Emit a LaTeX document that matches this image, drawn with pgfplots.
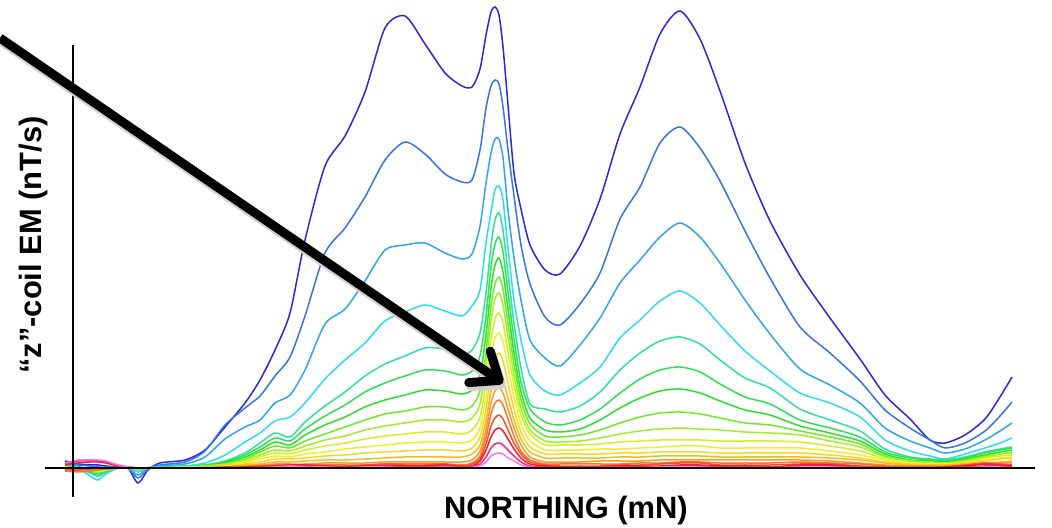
\documentclass[border=0pt]{standalone}
\usepackage{fontspec}
\setmainfont{Liberation Sans}
\usepackage{pgfplots}
\usepackage{pgfplotstable}
\pgfplotsset{compat=1.18}
\usetikzlibrary{arrows.meta}
\definecolor{c1}{RGB}{40,40,225}
\definecolor{c2}{RGB}{55,115,230}
\definecolor{c3}{RGB}{45,165,240}
\definecolor{c4}{RGB}{45,220,240}
\definecolor{c5}{RGB}{45,225,160}
\definecolor{c6}{RGB}{45,225,85}
\definecolor{c7}{RGB}{40,225,40}
\definecolor{c8}{RGB}{110,235,40}
\definecolor{c9}{RGB}{160,240,40}
\definecolor{c10}{RGB}{210,240,40}
\definecolor{c11}{RGB}{240,240,40}
\definecolor{c12}{RGB}{245,215,40}
\definecolor{c13}{RGB}{245,185,40}
\definecolor{c14}{RGB}{245,155,40}
\definecolor{c15}{RGB}{245,120,40}
\definecolor{c16}{RGB}{245,80,40}
\definecolor{c17}{RGB}{240,30,40}
\definecolor{c18}{RGB}{240,40,130}
\definecolor{c19}{RGB}{240,120,230}

\pgfplotstableread{
x c1 c2 c3 c4 c5 c6 c7 c8 c9 c10 c11 c12 c13 c14 c15 c16 c17 c18 c19
65 7 5 4 3 2 2 1 1 1 1 -2 -2 -1 -2 -3 -1 3 4 5
78 4 3 2 0 0 0 -1 -1 -1 -1 -3 -3 -2 -3 -4 -2 5 7 8
90 3 2 -4 -8 -5 -4 -3 -3 -3 -3 -2 -2 -2 -3 -3 -1 6 7 8
98 3 1 -8 -12 -8 -6 -4 -4 -4 -4 -1 -1 -1 -2 -2 0 6 7 8
106 2 1 -4 -6 -4 -3 -2 -2 -2 -2 0 0 -1 -1 -1 0 5 6 7
118 1 1 0 0 0 0 0 0 0 0 0 0 0 0 0 0 2 3 3
128 0 0 0 0 0 0 0 0 0 0 0 0 0 0 0 0 1 1 1
138 -15 -10 -7 -4 -2 -1 -1 -1 -1 0 0 0 0 0 0 0 0 0 0
148 -2 -1 0 0 0 0 0 0 0 0 0 0 0 0 0 0 0 0 0
160 5 3 2 1 1 1 0 0 0 0 0 0 0 0 0 0 0 0 0
185 8 6 4 2 2 1 1 1 1 1 0 0 0 0 0 0 0 0 0
205 18 17 11 5 3 3 2 2 2 1 1 1 1 0 0 0 0 0 0
225 41 43 29 13 7 6 5 4 4 3 2 2 1 1 1 1 0 0 0
245 65 60 41 26 15 13 11 9 8 6 5 4 3 2 1 1 1 0 0
260 88 72 48 35 25 21 18 16 13 11 9 6 4 3 2 2 1 1 0
275 118 92 65 47 35 30 26 22 18 15 12 9 6 4 3 2 2 1 1
290 155 111 73 51 31 27 23 20 17 14 11 9 6 4 3 2 3 2 2
305 228 152 98 65 46 39 33 27 22 18 14 10 7 4 3 3 3 2 1
325 302 215 144 89 62 52 43 34 28 22 16 12 8 5 3 2 2 1 1
345 332 240 159 108 76 63 51 41 32 25 19 13 8 5 3 2 1 1 0
365 376 271 187 125 92 76 61 48 38 29 21 15 9 5 3 3 2 1 1
385 440 308 218 147 104 85 68 54 42 32 23 16 10 6 4 4 2 2 1
405 452 326 223 156 112 92 73 57 45 34 25 17 11 6 4 3 2 1 0
425 424 314 225 163 120 98 78 61 48 36 26 18 11 6 4 3 2 1 0
445 395 294 215 157 119 97 77 61 48 36 26 18 11 6 4 4 3 2 1
462 382 286 209 152 113 93 74 58 46 34 25 17 11 6 3 2 1 1 0
472 381 288 214 162 118 97 78 62 50 38 28 20 14 8 5 4 2 2 0
480 399 318 242 178 135 112 93 77 64 51 40 31 23 17 12 9 7 4 2
486 433 360 285 225 175 152 133 115 101 86 72 59 47 38 31 24 18 11 6
491 456 382 315 256 222 201 180 162 147 128 111 93 77 65 54 42 31 20 12
495 461 388 329 278 248 224 203 184 169 149 130 110 91 77 65 50 38 24 14
499 453 384 329 282 255 231 210 191 175 155 135 115 95 81 68 53 40 25 15
503 421 361 310 268 238 216 196 179 163 145 126 107 88 75 63 49 37 23 14
508 363 318 258 220 195 176 159 144 131 116 101 85 70 59 49 38 29 18 10
514 295 272 210 168 145 129 115 104 93 83 71 59 48 40 32 25 19 12 7
521 259 223 168 128 100 86 76 68 60 53 44 36 29 23 17 14 10 6 3
530 223 184 128 93 64 59 50 44 38 34 27 21 16 11 8 6 4 2 1
545 198 151 110 77 59 46 38 32 27 23 18 14 10 6 4 3 2 1 0
560 194 143 102 73 56 43 36 31 26 23 18 14 10 6 4 2 1 0 0
580 222 164 123 85 62 48 39 33 27 23 18 14 10 6 4 2 1 1 0
600 269 195 150 101 76 59 48 38 30 24 19 14 10 7 4 2 1 1 0
620 334 249 185 130 98 75 60 45 34 26 19 15 11 7 4 3 2 1 0
640 381 281 208 148 115 89 70 51 37 27 20 15 11 7 5 3 2 1 0
660 434 325 231 167 127 98 77 55 39 28 21 16 12 8 5 4 2 1 1
680 457 341 245 177 131 101 79 56 40 28 22 16 12 8 6 5 3 2 1
700 429 320 231 165 124 96 75 54 39 28 22 16 12 8 6 5 3 2 1
720 377 287 205 143 108 84 67 50 38 27 20 15 11 8 5 3 2 1 0
745 305 237 168 117 90 71 58 45 36 27 20 15 11 8 5 3 2 1 0
770 247 190 134 97 80 64 53 43 35 27 20 15 11 8 5 3 1 1 0
800 193 141 99 75 59 48 42 37 33 26 20 15 11 8 6 4 3 2 1
830 150 115 83 65 48 40 35 31 27 22 17 13 10 7 5 4 3 2 1
860 109 87 65 51 37 31 27 24 21 17 13 10 8 5 4 2 1 1 0
885 73 58 40 28 19 16 14 12 11 9 8 6 5 3 2 1 0 0 0
910 49 40 27 17 11 10 8 7 7 5 5 4 3 2 1 1 0 0 0
930 28 28 20 12 9 8 7 6 6 4 4 3 3 2 1 1 0 0 0
945 25 20 15 9 8 7 6 5 5 4 4 3 3 2 1 1 1 0 0
965 33 25 19 14 11 10 9 8 7 6 6 5 4 3 2 3 2 1 0
985 49 37 28 20 16 15 13 12 11 10 8 7 5 4 4 5 4 2 1
1000 71 52 37 25 19 18 16 14 14 12 10 9 6 5 4 4 3 2 1
1012 91 66 45 30 21 20 18 16 15 13 11 10 7 5 3 3 2 1 0
}\emdata

\begin{document}
\begin{tikzpicture}
\begin{axis}[
  scale only axis,
  width=1052bp, height=528bp,
  xmin=0, xmax=1052, ymin=-60, ymax=468,
  hide axis,
  clip=false,
  every axis plot/.append style={line width=1.5bp, smooth, tension=0.45, mark=none},
]
\pgfplotsinvokeforeach{1,...,19}{
  \addplot[color=c#1] table[x=x, y=c#1]{\emdata};
}
\coordinate (bl) at (axis cs:0,-60);
\coordinate (tr) at (axis cs:1052,468);
\draw[line width=2.5bp] (axis cs:45,0) -- (axis cs:1035,0);
\draw[line width=1.6bp] (axis cs:73,-29) -- (axis cs:73,423);
\draw[line width=9bp, black!18, -{Straight Barb[length=24bp, width=38bp, round]}]
  (axis cs:2,426) -- (axis cs:505,81);
\draw[line width=9bp, black, -{Straight Barb[length=24bp, width=38bp, round]}]
  (axis cs:0,430) -- (axis cs:503,85);
\node[font=\fontsize{31}{36}\selectfont\bfseries] at (axis cs:566,-43) {NORTHING (mN)};
\node[font=\fontsize{31}{36}\selectfont\bfseries, rotate=90] at (axis cs:34,223) {“z”-coil EM (nT/s)};
\end{axis}
\pgfresetboundingbox
\path (bl) rectangle (tr);
\end{tikzpicture}
\end{document}
